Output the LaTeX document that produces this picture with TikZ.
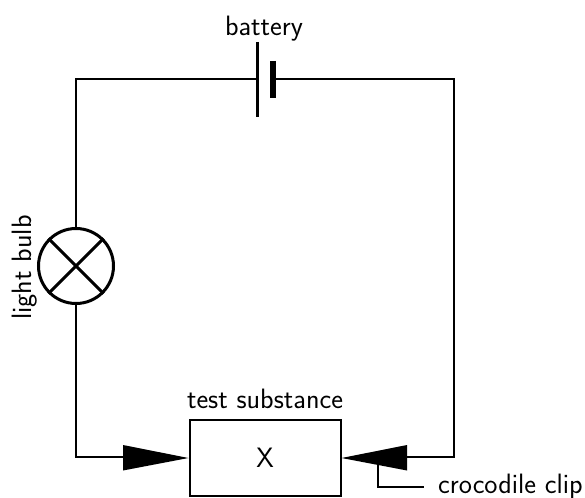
\documentclass[tikz,border=0pt]{standalone}
\usepackage{fontspec}
\usetikzlibrary{calc}
\begin{document}
\begin{tikzpicture}[x=1pt,y=-1pt,
  wire/.style={line width=2pt},
  thick wire/.style={line width=3pt},
  lbl/.style={font=\sffamily\fontsize{28}{32}\selectfont,inner sep=0pt,text=black},
  clip arrow/.style={fill=black,draw=none}]
\useasboundingbox (0,0) rectangle (585,497);
\coordinate (tl) at (76,79);
\coordinate (tr) at (454,79);
\coordinate (bl) at (76,457);
\coordinate (br) at (454,457);
\node[wire,draw,minimum width=151pt,minimum height=76pt,inner sep=0pt,lbl] (X) at (265,458) {X};
\node[thick wire,draw,circle,minimum size=75pt,inner sep=0pt] (bulb) at (76,266) {};
\coordinate (bp1) at (257.5,42);
\coordinate (bp2) at (257.5,117);
\coordinate (bs1) at (272.5,61);
\coordinate (bs2) at (272.5,98);
\draw[thick wire] (bp1) -- (bp2);
\draw[line width=6pt] (bs1) -- (bs2);
\draw[wire] (bp1 |- tl) -- (tl) -- (bulb.north);
\draw[wire] (bs1 |- tr) -- (tr) -- (br) -- (407,457);
\draw[wire] (bulb.south) -- (bl) -- (123,457);
\draw[thick wire] (bulb.45) -- (bulb.225) (bulb.135) -- (bulb.315);
\coordinate (a1) at (123,445);
\coordinate (a2) at (123,470.5);
\coordinate (a3) at (407,445);
\coordinate (a4) at (407,470.5);
\fill[clip arrow] (a1) -- (X.west) -- (a2) -- cycle;
\fill[clip arrow] (a3) -- (X.east) -- (a4) -- cycle;
\node[lbl,anchor=base] (bat) at (264,35.5) {battery};
\node[lbl,anchor=base,rotate=90] (lb) at (31,267.5) {light bulb};
\node[lbl,anchor=base] (ts) at (265,408) {test substance};
\node[lbl,anchor=base west] (cc) at (438,493) {crocodile clip};
\coordinate (cs) at (378,463);
\draw[wire] (cs) -- (378,487) -- (424,487);
\end{tikzpicture}
\end{document}
